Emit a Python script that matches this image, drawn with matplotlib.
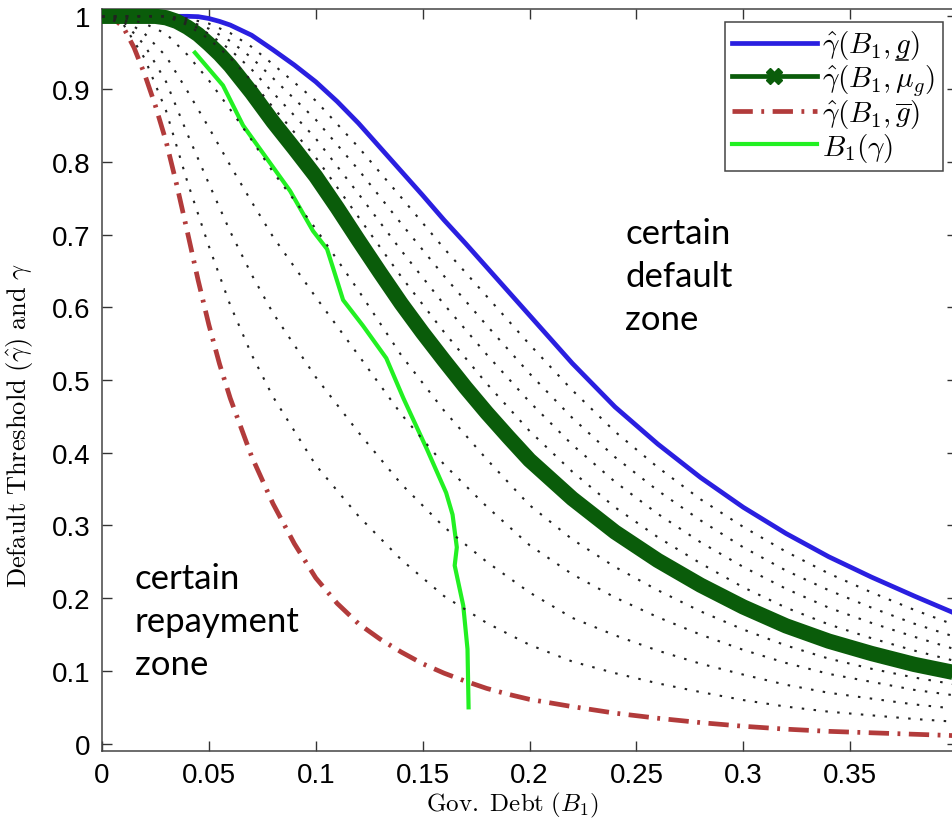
import numpy as np
import matplotlib
matplotlib.use("Agg")
import matplotlib.pyplot as plt
from matplotlib.lines import Line2D

plt.rcParams['font.family'] = ['Liberation Sans', 'DejaVu Sans']
plt.rcParams['mathtext.fontset'] = 'cm'

# government debt grid (B1) for the three main thresholds
debt = [0, 0.005, 0.01, 0.015, 0.02, 0.025, 0.03, 0.035, 0.04, 0.045, 0.05, 0.055, 0.06,
        0.07, 0.08, 0.09, 0.10, 0.11, 0.12, 0.13, 0.14, 0.15, 0.16, 0.17, 0.18, 0.19, 0.20,
        0.22, 0.24, 0.26, 0.28, 0.30, 0.32, 0.34, 0.36, 0.38, 0.40]

# default thresholds for the lowest, mean and highest growth
gam_g_low = [1, 1, 1, 1, 1, 1, 1, 1, 1, 0.9995, 0.997, 0.993, 0.988,
             0.974, 0.954, 0.933, 0.91, 0.883, 0.853, 0.82, 0.787, 0.754, 0.72, 0.688, 0.655, 0.622, 0.589,
             0.523, 0.463, 0.412, 0.366, 0.325, 0.289, 0.257, 0.229, 0.203, 0.178]
gam_g_mu = [1, 1, 1, 1, 1, 1, 0.998, 0.993, 0.985, 0.975, 0.962, 0.948, 0.932,
            0.895, 0.855, 0.818, 0.78, 0.737, 0.692, 0.648, 0.605, 0.565, 0.527, 0.49, 0.455, 0.422, 0.39,
            0.337, 0.291, 0.252, 0.218, 0.188, 0.162, 0.141, 0.124, 0.109, 0.097]
gam_g_high = [1, 0.998, 0.985, 0.957, 0.92, 0.877, 0.828, 0.768, 0.703, 0.637, 0.576, 0.522, 0.475,
              0.395, 0.33, 0.275, 0.228, 0.193, 0.165, 0.144, 0.126, 0.11, 0.097, 0.086, 0.076, 0.068, 0.061,
              0.051, 0.042, 0.035, 0.029, 0.024, 0.020, 0.017, 0.015, 0.013, 0.011]

# thresholds for the intermediate growth draws (coarser grid)
debt_mid = [0, 0.01, 0.02, 0.03, 0.04, 0.05, 0.06, 0.07, 0.08, 0.10, 0.12, 0.14, 0.16,
            0.18, 0.20, 0.22, 0.24, 0.26, 0.28, 0.30, 0.32, 0.34, 0.36, 0.38, 0.40]
gam_other = [
    [1, 0.989, 0.942, 0.870, 0.772, 0.684, 0.603, 0.535, 0.477, 0.383, 0.313, 0.253, 0.203,
     0.166, 0.136, 0.113, 0.097, 0.083, 0.071, 0.060, 0.051, 0.044, 0.039, 0.034, 0.030],
    [1, 0.993, 0.960, 0.910, 0.838, 0.770, 0.704, 0.645, 0.592, 0.504, 0.428, 0.357, 0.298,
     0.250, 0.208, 0.173, 0.149, 0.128, 0.110, 0.095, 0.081, 0.070, 0.062, 0.054, 0.048],
    [1, 0.996, 0.976, 0.945, 0.897, 0.847, 0.795, 0.745, 0.697, 0.614, 0.534, 0.453, 0.384,
     0.326, 0.273, 0.233, 0.201, 0.174, 0.150, 0.129, 0.111, 0.096, 0.085, 0.074, 0.066],
    [1, 0.998, 0.990, 0.976, 0.947, 0.912, 0.872, 0.830, 0.786, 0.708, 0.623, 0.534, 0.458,
     0.391, 0.328, 0.281, 0.243, 0.211, 0.182, 0.157, 0.135, 0.117, 0.103, 0.091, 0.081],
    [1, 1, 1, 1, 0.988, 0.969, 0.943, 0.911, 0.875, 0.806, 0.724, 0.642, 0.566,
     0.495, 0.430, 0.374, 0.325, 0.284, 0.248, 0.215, 0.187, 0.164, 0.145, 0.128, 0.113],
    [1, 1, 1, 1, 0.991, 0.976, 0.954, 0.927, 0.895, 0.832, 0.756, 0.678, 0.604,
     0.535, 0.470, 0.411, 0.360, 0.316, 0.277, 0.243, 0.213, 0.187, 0.166, 0.147, 0.129],
    [1, 1, 1, 1, 0.994, 0.983, 0.966, 0.943, 0.915, 0.858, 0.789, 0.715, 0.643,
     0.575, 0.509, 0.448, 0.394, 0.348, 0.307, 0.270, 0.238, 0.211, 0.187, 0.165, 0.146],
    [1, 1, 1, 1, 0.997, 0.990, 0.977, 0.958, 0.934, 0.884, 0.820, 0.751, 0.681,
     0.615, 0.549, 0.486, 0.429, 0.380, 0.336, 0.298, 0.264, 0.234, 0.208, 0.184, 0.162],
]

# debt level B1(gamma)
b1_gamma = [0.95, 0.905, 0.85, 0.805, 0.76, 0.705, 0.68, 0.655, 0.61, 0.575, 0.53, 0.475,
            0.405, 0.345, 0.315, 0.27, 0.245, 0.19, 0.13, 0.05]
b1_debt = [0.0435, 0.0566, 0.066, 0.077, 0.088, 0.0987, 0.1053, 0.108, 0.1128, 0.122, 0.133,
           0.141, 0.152, 0.161, 0.164, 0.166, 0.165, 0.169, 0.171, 0.1715]

BLUE = '#2a1fe0'
DKGREEN = '#0a5c0a'
RED = '#b23b3b'
LTGREEN = '#22f022'
RED_LS = (0, (4.3, 1.8, 0.6, 1.8))

fig = plt.figure(figsize=(9.52, 8.29), dpi=100)
ax = fig.add_axes([0.1071, 0.0929, 0.8982, 0.895])

ax.plot(debt, gam_g_low, color=BLUE, lw=3.4, zorder=3)
ax.plot(debt, gam_g_high, color=RED, lw=3.4, ls=RED_LS, zorder=3)
ax.plot(debt, gam_g_mu, color=DKGREEN, lw=11, solid_capstyle='butt', zorder=4)
ax.plot(b1_debt, b1_gamma, color=LTGREEN, lw=3, zorder=5)
for g in gam_other:
    ax.plot(debt_mid, g, color='#222222', lw=1.5, ls=(0, (1.2, 4.5)), zorder=6)

ax.text(0.2447, 0.724, 'certain\ndefault\nzone', fontsize=25, family='Lato',
        va='top', ha='left', linespacing=1.42)
ax.text(0.0154, 0.25, 'certain\nrepayment\nzone', fontsize=25, family='Lato',
        va='top', ha='left', linespacing=1.42)

ax.set_xlim(0, 0.4)
ax.set_ylim(-0.01, 1.01)
ax.set_xticks(np.arange(0, 0.36, 0.05))
ax.set_yticks(np.arange(0, 1.01, 0.1))
ax.xaxis.set_major_formatter(plt.FuncFormatter(lambda v, p: '%g' % round(v, 2)))
ax.yaxis.set_major_formatter(plt.FuncFormatter(lambda v, p: '%g' % round(v, 2)))
ax.tick_params(direction='in', top=True, right=True, length=7, width=1,
               labelsize=20, color='#333333', pad=8)
for s in ax.spines.values():
    s.set_color('#444444')
    s.set_linewidth(1.1)

ax.set_xlabel(r'$\mathrm{Gov.\ Debt\ }(B_1)$', fontsize=18)
ax.set_ylabel(r'$\mathrm{Default\ Threshold\ }(\hat{\gamma})\mathrm{\ and\ }\gamma$', fontsize=19)
ax.xaxis.set_label_coords(0.48, -0.052)
ax.yaxis.set_label_coords(-0.077, 0.44)

handles = [
    Line2D([], [], color=BLUE, lw=3.4),
    Line2D([], [], color=DKGREEN, lw=3.4, marker='X', markersize=12),
    Line2D([], [], color=RED, lw=3.4, ls=RED_LS),
    Line2D([], [], color=LTGREEN, lw=3),
]
labels = [r'$\hat{\gamma}(B_1,g)$', r'$\hat{\gamma}(B_1,\mu_g)$',
          r'$\hat{\gamma}(B_1,\overline{g})$', r'$B_1(\gamma)$']
leg_size = 21
leg = ax.legend(handles, labels, loc='upper right', bbox_to_anchor=(0.9836, 0.9825),
                borderaxespad=0, fontsize=leg_size, handlelength=2.9, handletextpad=0.2,
                labelspacing=0.0, borderpad=0.25, fancybox=False, framealpha=1,
                edgecolor='#444444')
leg.get_frame().set_linewidth(1.1)

# mathtext has no \underline, so put the bar under the lower-bound g by hand
fig.canvas.draw()
bb = leg.get_texts()[0].get_window_extent()
em = leg_size * fig.dpi / 72
x_end = bb.x1 - 0.42 * em
ul = Line2D([x_end - 0.42 * em, x_end], [bb.y0 + 2, bb.y0 + 2], transform=None,
            color='black', lw=1.1, zorder=10)
fig.add_artist(ul)

fig.savefig('out.png', dpi=100)
